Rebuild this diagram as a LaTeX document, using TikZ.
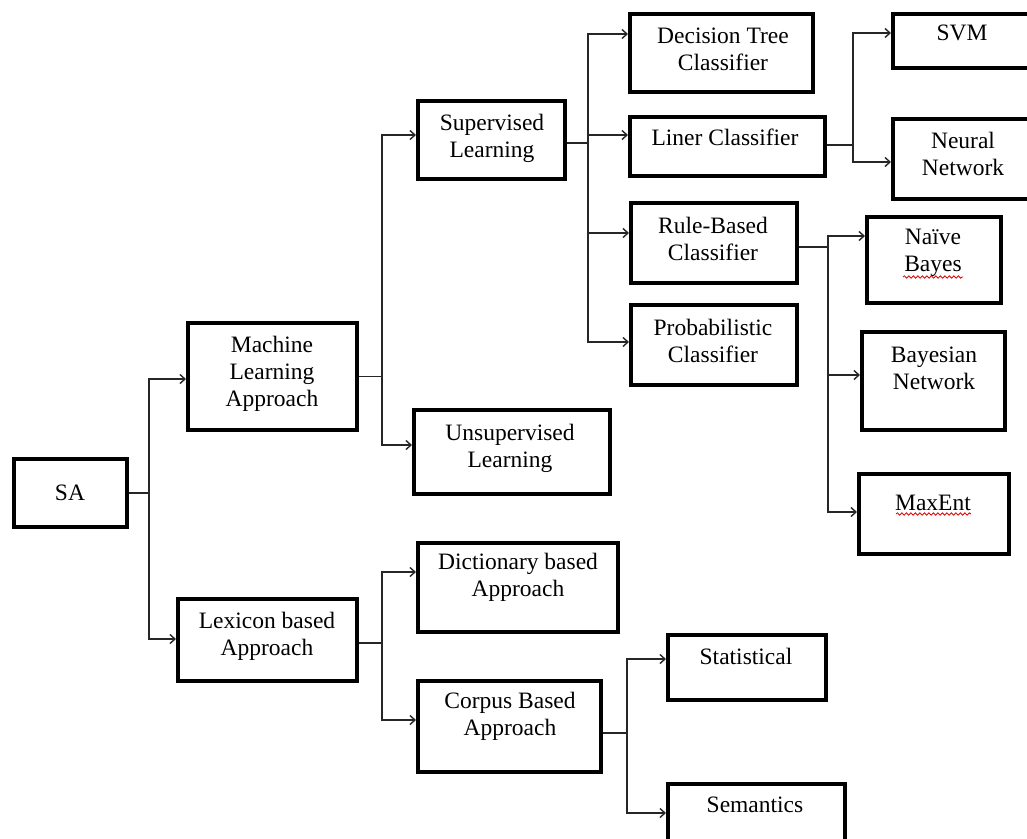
\documentclass[tikz,border=0pt]{standalone}
\usepackage{fontspec}
\setmainfont{Liberation Serif}
\usetikzlibrary{arrows.meta,decorations.pathmorphing}
\tikzset{
  boxst/.style={draw=black, line width=4pt, fill=white, inner sep=0pt},
  txt/.style={align=center, inner sep=0pt, font=\fontsize{23.5}{27}\selectfont},
  conn/.style={draw=black!85, line width=1.6pt},
  arr/.style={conn, -{Straight Barb[length=5pt,width=9pt,line width=1.4pt]}},
  squig/.style={draw=red!85!black, line width=0.8pt, decorate,
    decoration={snake, segment length=4.5pt, amplitude=1.2pt}}
}
\newcommand\mkbox[5]{\node[boxst, anchor=north west,
  minimum width={(#4-#2-4)*1pt}, minimum height={(#5-#3-4)*1pt}] (#1) at (#2,#3) {};}
\begin{document}
\begin{tikzpicture}[x=1pt,y=-1pt]
\clip (0,0) rectangle (1027,838);
\fill[white] (0,0) rectangle (1027,838);
% boxes
\mkbox{sa}{12}{457}{129}{529}
\mkbox{ml}{186}{321}{359}{432}
\mkbox{lex}{176}{597}{359}{683}
\mkbox{sup}{416}{99}{567}{181}
\mkbox{uns}{412}{408}{612}{496}
\mkbox{dt}{628}{12}{815}{94}
\mkbox{lin}{628}{115}{827}{178}
\mkbox{rul}{629}{201}{799}{285}
\mkbox{pro}{629}{303}{799}{387}
\mkbox{svm}{891}{12}{1045}{70}
\mkbox{nn}{891}{117}{1045}{201}
\mkbox{nb}{865}{215}{1003}{305}
\mkbox{bn}{860}{330}{1007}{432}
\mkbox{me}{857}{472}{1011}{556}
\mkbox{dic}{416}{541}{620}{634}
\mkbox{cor}{416}{679}{603}{774}
\mkbox{sta}{666}{633}{828}{702}
\mkbox{sem}{666}{782}{847}{850}
% texts
\node[txt] (sa-t) at (70,493) {SA};
\node[txt] (ml-t) at (272,374) {Machine\\Learning\\Approach};
\node[txt] (lex-t) at (267,636) {Lexicon based\\Approach};
\node[txt] (sup-t) at (492,138) {Supervised\\Learning};
\node[txt] (uns-t) at (510,448) {Unsupervised\\Learning};
\node[txt] (dt-t) at (723,49) {Decision Tree\\Classifier};
\node[txt] (lin-t) at (725,137) {Liner Classifier};
\node[txt] (rul-t) at (713,239) {Rule-Based\\Classifier};
\node[txt] (pro-t) at (713,341) {Probabilistic\\Classifier};
\node[txt] (svm-t) at (962,33) {SVM};
\node[txt] (nn-t) at (963,154) {Neural\\Network};
\node[txt] (nb-t) at (933,253) {Naïve\\Bayes};
\node[txt] (bn-t) at (934,368) {Bayesian\\Network};
\node[txt] (me-t) at (933,503) {MaxEnt};
\node[txt] (dic-t) at (518,577) {Dictionary based\\Approach};
\node[txt] (cor-t) at (510,716) {Corpus Based\\Approach};
\node[txt] (sta-t) at (746,656) {Statistical};
\node[txt] (sem-t) at (755,805) {Semantics};
% spell-check marks
\draw[squig] (903,277) -- (963,277);
\draw[squig] (896,514) -- (971,514);
% connectors
\draw[conn] (sa.east) -- ++(20,0) coordinate (j1);
\draw[arr] (j1) |- ([yshift=-2.5pt]ml.west);
\draw[arr] (j1) |- ([yshift=1pt]lex.west);

\draw[conn] (ml.east) -- ++(23,0) coordinate (j2);
\draw[arr] (j2) |- ([yshift=5pt]sup.west);
\draw[arr] (j2) |- ([yshift=7pt]uns.west);

\draw[conn] ([yshift=-3pt]lex.east) -- ++(23,0) coordinate (j3);
\draw[arr] (j3) |- ([yshift=15.5pt]dic.west);
\draw[arr] (j3) |- ([yshift=6.5pt]cor.west);

\draw[conn] ([yshift=-3pt]sup.east) -- ++(21,0) coordinate (j4);
\draw[arr] (j4) |- ([yshift=19pt]dt.west);
\draw[arr] (j4) |- ([yshift=11.5pt]lin.west);
\draw[arr] (j4) |- ([yshift=10pt]rul.west);
\draw[arr] (j4) |- ([yshift=3pt]pro.west);

\draw[conn] ([yshift=1.5pt]lin.east) -- ++(26,0) coordinate (j5);
\draw[arr] (j5) |- ([yshift=8pt]svm.west);
\draw[arr] (j5) |- ([yshift=-3pt]nn.west);

\draw[conn] ([yshift=-4pt]rul.east) -- ++(29,0) coordinate (j6);
\draw[arr] (j6) |- ([yshift=24pt]nb.west);
\draw[arr] (j6) |- ([yshift=6pt]bn.west);
\draw[arr] (j6) |- ([yshift=2pt]me.west);

\draw[conn] ([yshift=-6.5pt]cor.east) -- ++(24,0) coordinate (j7);
\draw[arr] (j7) |- ([yshift=8.5pt]sta.west);
\draw[arr] (j7) |- ([yshift=3pt]sem.west);
\end{tikzpicture}
\end{document}
